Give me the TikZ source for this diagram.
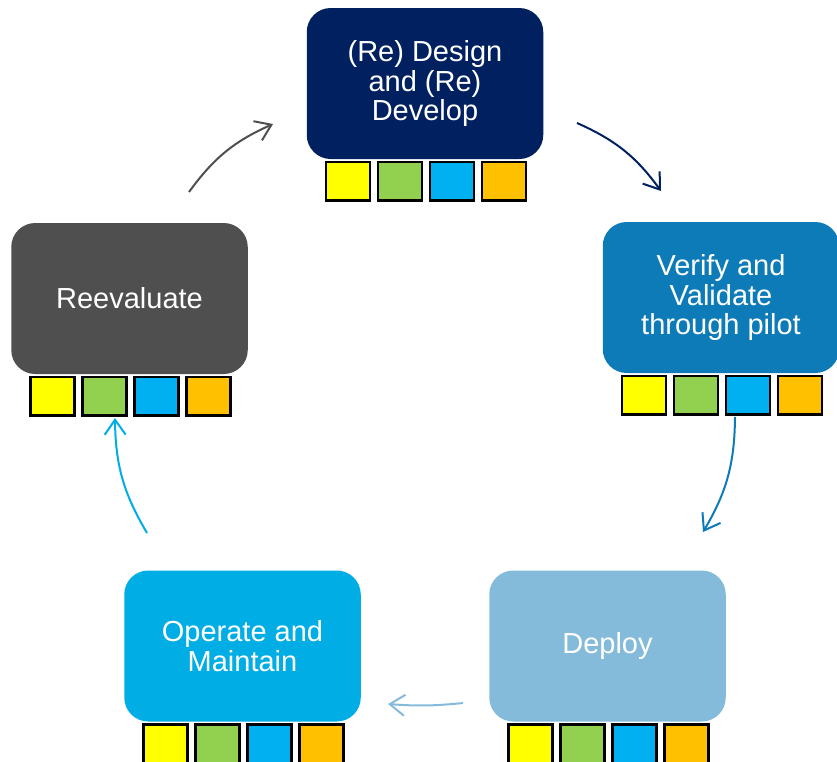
\documentclass[tikz,border=0pt]{standalone}
\usepackage{fontspec}
\setmainfont{Liberation Sans}
\usetikzlibrary{arrows.meta}
\definecolor{navy}{HTML}{002060}
\definecolor{midblue}{HTML}{0E7BB9}
\definecolor{darkgray}{HTML}{4F4F4F}
\definecolor{skyblue}{HTML}{00ADE5}
\definecolor{paleblue}{HTML}{85BBDA}
\definecolor{sqyellow}{HTML}{FFFF00}
\definecolor{sqgreen}{HTML}{92D050}
\definecolor{sqblue}{HTML}{00B0F0}
\definecolor{sqorange}{HTML}{FFC000}
\tikzset{
  stagebox/.style={rounded corners=24pt, minimum width=236.5pt, minimum height=151pt,
    inner sep=0pt, text=white, align=center,
    font=\fontsize{29pt}{29.5pt}\selectfont},
  sq/.style={draw=black, line width=2.5pt, minimum width=44pt, minimum height=38.5pt,
    inner sep=0pt, anchor=north},
  cyc/.style={line width=2pt, -{Straight Barb[length=15pt,width=21pt,line width=2pt]}},
}
\newcommand{\mysquares}[1]{%
  \node[sq, fill=sqyellow] (#1-s1) at ([xshift=-77pt,yshift=-1.5pt]#1.south) {};
  \node[sq, fill=sqgreen]  (#1-s2) at ([xshift=-25pt,yshift=-1.5pt]#1.south) {};
  \node[sq, fill=sqblue]   (#1-s3) at ([xshift=27pt,yshift=-1.5pt]#1.south) {};
  \node[sq, fill=sqorange] (#1-s4) at ([xshift=79pt,yshift=-1.5pt]#1.south) {};
}
\begin{document}
\begin{tikzpicture}[x=1pt,y=-1pt]
\useasboundingbox (0,0) rectangle (837,761);
\node[stagebox, fill=navy] (design) at (425,83.5) {(Re) Design\\and (Re)\\Develop};
\node[stagebox, fill=midblue] (verify) at (721,297.5) {Verify and\\Validate\\through pilot};
\node[stagebox, fill=paleblue] (deploy) at (607.5,646) {Deploy};
\node[stagebox, fill=skyblue] (operate) at (242.5,646) {Operate and\\Maintain};
\node[stagebox, fill=darkgray] (reeval) at (129.5,298.5) {Reevaluate};
\mysquares{design}
\mysquares{verify}
\mysquares{deploy}
\mysquares{operate}
\mysquares{reeval}
\coordinate (a1s) at (577,123);
\coordinate (a1e) at (661,191);
\coordinate (a2s) at (735,417);
\coordinate (a2e) at (703,532);
\coordinate (a3s) at (463,703);
\coordinate (a3e) at (388,704);
\coordinate (a4s) at (147,533);
\coordinate (a4e) at (115,418);
\coordinate (a5s) at (189,192);
\coordinate (a5e) at (273,124);
\draw[cyc, navy] (a1s) to[bend left=15] (a1e);
\draw[cyc, midblue] (a2s) to[bend left=15] (a2e);
\draw[cyc, paleblue] (a3s) to[bend left=5] (a3e);
\draw[cyc, skyblue] (a4s) to[bend left=15] (a4e);
\draw[cyc, darkgray] (a5s) to[bend left=15] (a5e);
\end{tikzpicture}
\end{document}
